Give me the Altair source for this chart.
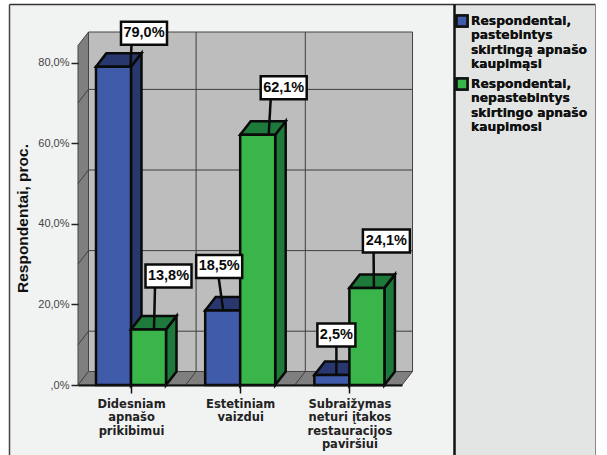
import altair as alt
import pandas as pd

# Survey results, percent of respondents
categories = [
    "Didesniam\napnašo\nprikibimui",
    "Estetiniam\nvaizdui",
    "Subraižymas\nneturi įtakos\nrestauracijos\npaviršiui",
]
series = [
    "Respondentai,\npastebintys\nskirtingą apnašo\nkaupimąsi",
    "Respondentai,\nnepastebintys\nskirtingo apnašo\nkaupimosi",
]
noticed = [79.0, 18.5, 2.5]
not_noticed = [13.8, 62.1, 24.1]
front_colors = ["#3f5ba9", "#39b54a"]
top_colors = ["#28386f", "#1d7a3a"]
y_ticks = [0, 20, 40, 60, 80]
wall_grid = [10, 30, 50, 70]

# Plot frame in pixels and the oblique depth of the 3D box
WIDTH, HEIGHT = 324, 353
LEFT, TOP = 78, 32
X_UNIT, Y_UNIT = 109.2, 4.03
FIRST_CENTER = 131
DEPTH_X = 10.5 / X_UNIT
DEPTH_Y = 13.5 / Y_UNIT
BAR_W = 35 / X_UNIT
x_min = (LEFT - FIRST_CENTER) / X_UNIT
x_max = x_min + WIDTH / X_UNIT
y_max = HEIGHT / Y_UNIT

xs = alt.Scale(domain=[x_min, x_max], nice=False, zero=False)
ys = alt.Scale(domain=[0, y_max], nice=False, zero=False)
FONT = "Liberation Sans"


def X(field="x"):
    return alt.X(f"{field}:Q", scale=xs, axis=None)


def Y(field="y"):
    return alt.Y(f"{field}:Q", scale=ys, axis=None)


def rule_layer(rows, **mark):
    return alt.Chart(pd.DataFrame(rows)).mark_rule(**mark).encode(
        x=X(), x2="x2:Q", y=Y(), y2="y2:Q"
    )


def pixel_rect(x0, x1, y0, y1, **mark):
    return alt.Chart(pd.DataFrame({"k": [0]})).mark_rect(**mark).encode(
        x=alt.value(x0 - LEFT), x2=alt.value(x1 - LEFT),
        y=alt.value(y0 - TOP), y2=alt.value(y1 - TOP),
    )


def pixel_rule(x0, x1, y0, y1, **mark):
    return alt.Chart(pd.DataFrame({"k": [0]})).mark_rule(**mark).encode(
        x=alt.value(x0 - LEFT), x2=alt.value(x1 - LEFT),
        y=alt.value(y0 - TOP), y2=alt.value(y1 - TOP),
    )


# Real axes live in their own layer; zindex lifts them above the fills
axis_df = pd.DataFrame({"x": [0, 1, 2], "y": [0, 20, 40]})
label_list = "[" + ",".join('"' + c.replace("\n", "|") + '"' for c in categories) + "]"
axes = alt.Chart(axis_df).mark_point(opacity=0).encode(
    x=alt.X("x:Q", scale=xs, title=None, axis=alt.Axis(
        values=[0, 1, 2], grid=False, domainColor="#111111", domainWidth=2,
        tickColor="#111111", tickWidth=1.5, tickSize=8, labelPadding=5,
        labelFont="DejaVu Sans", labelFontSize=11.5, labelFontWeight="bold",
        labelColor="#222222", labelOverlap=False, labelFlush=False,
        labelBaseline="top", labelAlign="center", labelLimit=200,
        labelExpr=f"split({label_list}[datum.value], '|')", zindex=2,
    )),
    y=alt.Y("y:Q", scale=ys, title="Respondentai, proc.", axis=alt.Axis(
        values=y_ticks, grid=False, domain=False,
        tickColor="#222222", tickWidth=1.5, tickSize=7, labelPadding=2,
        labelFont=FONT, labelFontSize=11, labelColor="#444444",
        labelExpr="datum.value == 0 ? ',0%' : replace(format(datum.value, '.1f'), '.', ',') + '%'",
        titleFont=FONT, titleFontSize=15.5, titleFontWeight="bold", titleColor="#111111",
        titleX=-56, titleY=186, titleAngle=270, titleAlign="center", titleBaseline="middle", zindex=2,
    )),
)

# Chart panel, legend panel and their frame
background = [
    pixel_rect(10, 455, 5, 455, fill="#f1f3f2"),
    pixel_rect(455, 596, 5, 455, fill="#e3e5e4"),
    pixel_rule(9.5, 595.5, 4.5, 4.5, stroke="#333333", strokeWidth=1.5),
    pixel_rule(9.5, 9.5, 4.5, 455, stroke="#444444", strokeWidth=1.5),
    pixel_rule(595.5, 595.5, 4.5, 455, stroke="#888888", strokeWidth=1),
    pixel_rule(454.5, 454.5, 4.5, 455, stroke="#111111", strokeWidth=2.5),
]

# Walls and floor of the box
x_right = x_max
back_wall = alt.Chart(pd.DataFrame([{
    "x": x_min + DEPTH_X, "x2": x_right + DEPTH_X, "y": DEPTH_Y, "y2": y_max,
}])).mark_rect(fill="#bdbdbd", stroke="#444444", strokeWidth=1).encode(
    x=X(), x2="x2:Q", y=Y(), y2="y2:Q"
)
left_wall = alt.Chart(pd.DataFrame([
    {"x": x_min, "y": y_max - DEPTH_Y, "y2": 0},
    {"x": x_min + DEPTH_X, "y": y_max, "y2": DEPTH_Y},
])).mark_area(orient="vertical", fill="#7f7f7f", stroke="#444444", strokeWidth=1).encode(
    x=X(), y=Y(), y2="y2:Q"
)
floor = alt.Chart(pd.DataFrame([
    {"y": 0, "x": x_min, "x2": x_right},
    {"y": DEPTH_Y, "x": x_min + DEPTH_X, "x2": x_right + DEPTH_X},
])).mark_area(orient="horizontal", fill="#7f7f7f", stroke="#444444", strokeWidth=1).encode(
    y=Y(), x=X(), x2="x2:Q"
)

# Wall grid: rules on the back wall and their slant across the side wall and floor
grid_rows = []
for v in wall_grid:
    grid_rows.append({"x": x_min + DEPTH_X, "x2": x_right + DEPTH_X, "y": v + DEPTH_Y, "y2": v + DEPTH_Y})
    grid_rows.append({"x": x_min, "x2": x_min + DEPTH_X, "y": v, "y2": v + DEPTH_Y})
for i in range(len(categories) - 1):
    sep = i + 0.5
    grid_rows.append({"x": sep + DEPTH_X, "x2": sep + DEPTH_X, "y": DEPTH_Y, "y2": y_max})
    grid_rows.append({"x": sep, "x2": sep + DEPTH_X, "y": 0, "y2": DEPTH_Y})
grid = rule_layer(grid_rows, stroke="#3f3f3f", strokeWidth=1)

layers = [axes] + background + [back_wall, left_wall, floor, grid]

# Extruded bars: side and top faces first, then the front, one series at a time
color = alt.Color(
    "series:N",
    scale=alt.Scale(domain=series, range=front_colors),
    legend=alt.Legend(
        orient="none", legendX=377, legendY=-18, title=None,
        symbolType="square", symbolSize=120, symbolStrokeColor="#111111",
        symbolStrokeWidth=2.5, symbolOpacity=1,
        labelFont="DejaVu Sans", labelFontSize=12.3, labelFontWeight="bold",
        labelColor="#111111", labelLimit=200, labelOffset=2, rowPadding=2,
        labelExpr="split(datum.label, '\\n')",
    ),
)
for s, values in enumerate([noticed, not_noticed]):
    side_rows, top_rows, front_rows = [], [], []
    for i, v in enumerate(values):
        a = i + (s - 1) * BAR_W
        b = a + BAR_W
        side_rows += [
            {"bar": i, "x": b, "y": v, "y2": 0},
            {"bar": i, "x": b + DEPTH_X, "y": v + DEPTH_Y, "y2": DEPTH_Y},
        ]
        top_rows += [
            {"bar": i, "y": v, "x": a, "x2": b},
            {"bar": i, "y": v + DEPTH_Y, "x": a + DEPTH_X, "x2": b + DEPTH_X},
        ]
        front_rows.append({"series": series[s], "x": a, "x2": b, "y": v, "y2": 0})
    face = dict(fill=top_colors[s], stroke="#0a0a0a", strokeWidth=2.5, strokeJoin="miter")
    layers.append(alt.Chart(pd.DataFrame(side_rows)).mark_area(orient="vertical", **face).encode(
        x=X(), y=Y(), y2="y2:Q", detail="bar:N"))
    layers.append(alt.Chart(pd.DataFrame(top_rows)).mark_area(orient="horizontal", **face).encode(
        y=Y(), x=X(), x2="x2:Q", detail="bar:N"))
    layers.append(alt.Chart(pd.DataFrame(front_rows)).mark_rect(
        stroke="#0a0a0a", strokeWidth=2.5).encode(
        x=X(), x2="x2:Q", y=Y(), y2="y2:Q", color=color))

# Callouts: (series, category, box centre from bar top, box half width,
# leader start from box centre, leader foot from bar top), all in pixels
callouts = [
    (0, 0, (30.5, -33.5), 23, -12.5, (17, 0)),
    (1, 0, (20, -53.5), 23, -13.5, (5.5, 0)),
    (0, 1, (-3.5, -44), 23, -0.5, (0.5, 0)),
    (1, 1, (26, -47), 23, -13, (11, 0)),
    (0, 2, (4.5, -40), 19, 0, (4.5, 0)),
    (1, 2, (19.5, -47), 23.5, -12.8, (7, 0)),
]
BOX_HALF_H = 11.5
box_rows, leader_rows = [], []
for s, i, (ox, oy), half_w, lead_dx, (fx, fy) in callouts:
    v = [noticed, not_noticed][s][i]
    bar_mid = i + (s - 0.5) * BAR_W
    cx = bar_mid + ox / X_UNIT
    cy = v - oy / Y_UNIT
    box_rows.append({
        "x": cx - half_w / X_UNIT, "x2": cx + half_w / X_UNIT,
        "y": cy + BOX_HALF_H / Y_UNIT, "y2": cy - BOX_HALF_H / Y_UNIT,
        "cx": cx, "cy": cy, "label": f"{v:.1f}".replace(".", ",") + "%",
    })
    leader_rows.append({
        "x": cx + lead_dx / X_UNIT, "y": cy - BOX_HALF_H / Y_UNIT,
        "x2": bar_mid + fx / X_UNIT, "y2": v - fy / Y_UNIT,
    })
box_df = pd.DataFrame(box_rows)
layers.append(rule_layer(leader_rows, stroke="#0a0a0a", strokeWidth=2.5))
layers.append(alt.Chart(box_df).mark_rect(fill="white", stroke="#0a0a0a", strokeWidth=2.5).encode(
    x=X(), x2="x2:Q", y=Y(), y2="y2:Q"))
layers.append(alt.Chart(box_df).mark_text(
    font=FONT, fontSize=14.5, fontWeight="bold", color="#0a0a0a", baseline="middle", align="center"
).encode(x=X("cx"), y=Y("cy"), text="label:N"))

chart = alt.layer(*layers).resolve_scale(color="independent").resolve_axis(
    x="independent", y="independent"
).properties(
    width=WIDTH, height=HEIGHT,
    padding={"left": LEFT, "top": TOP, "right": 607 - LEFT - WIDTH, "bottom": 455 - TOP - HEIGHT},
    autosize=alt.AutoSizeParams(type="none"),
    background="white",
).configure_view(stroke=None)

chart.save("out.html", embed_options={"renderer": "svg", "actions": False})
